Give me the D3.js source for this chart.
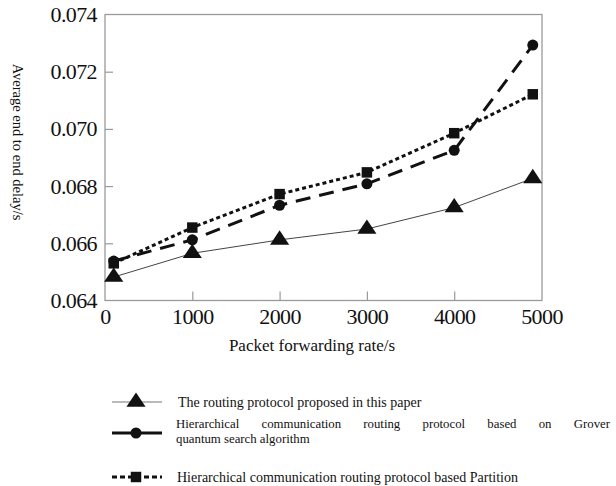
<!DOCTYPE html>
<html><head><meta charset="utf-8">
<script src="https://cdn.jsdelivr.net/npm/d3@7"></script>
<style>body{margin:0;background:#fff}svg{display:block}svg text{font-family:"Times New Roman","Liberation Serif",Times,"DejaVu Serif",serif !important;fill:#111}</style>
</head><body><svg id="c" width="616" height="486"></svg>
<script>
const xValues = [100, 1000, 2000, 3000, 4000, 4900];
const proposed = [0.06482, 0.06565, 0.06612, 0.06650, 0.06725, 0.06827];
const grover = [0.06538, 0.06612, 0.06733, 0.06808, 0.06925, 0.07293];
const partition = [0.06530, 0.06655, 0.06772, 0.06848, 0.06985, 0.07121];
const xTicks = [0, 1000, 2000, 3000, 4000, 5000];
const yTicks = [0.064, 0.066, 0.068, 0.070, 0.072, 0.074];
const seriesNames = ["The routing protocol proposed in this paper",
  "Hierarchical communication routing protocol based on Grover quantum search algorithm",
  "Hierarchical communication routing protocol based Partition"];
const xTitle = "Packet forwarding rate/s";
const yTitle = "Average end to end delay/s";

const svg = d3.select("#c");
const L = 105, R = 542, T = 14.5, B = 300.5;
const x = d3.scaleLinear().domain([0, 5000]).range([L, R - 0.5]);
const y = d3.scaleLinear().domain([0.064, 0.074]).range([B, T]);

svg.append("rect").attr("x", L).attr("y", T).attr("width", R - L).attr("height", B - T)
  .attr("fill", "none").attr("stroke", "#9a9a9a").attr("stroke-width", 1.3);

const ya = svg.append("g").attr("transform", `translate(${L},0)`)
  .call(d3.axisLeft(y).tickValues(yTicks).tickFormat(d3.format(".3f")).tickSize(-8).tickPadding(8));
const xa = svg.append("g").attr("transform", `translate(0,${B})`)
  .call(d3.axisBottom(x).tickValues(xTicks).tickFormat(d3.format("d")).tickSize(-9).tickPadding(8));
[ya, xa].forEach(g => {
  g.attr("font-family", null);
  g.select(".domain").remove();
  g.selectAll(".tick line").attr("stroke", "#9a9a9a").attr("stroke-width", 1.2);
  g.selectAll("text").attr("font-size", 22).attr("fill", "#222").attr("letter-spacing", -0.6);
});
ya.selectAll(".tick").filter(d => d === 0.064 || d === 0.074).select("line").remove();
xa.selectAll(".tick").filter(d => d === 0 || d === 5000).select("line").remove();

svg.append("text").attr("x", 312).attr("y", 351).attr("text-anchor", "middle")
  .attr("font-size", 17).text(xTitle);
svg.append("text").attr("transform", "translate(13,142) rotate(90)").attr("text-anchor", "middle")
  .attr("font-size", 14.5).text(yTitle);

const series = [
  {vals: proposed, stroke: "#444", width: 1, dash: null, marker: "tri"},
  {vals: grover, stroke: "#111", width: 3, dash: "15,9", marker: "circ"},
  {vals: partition, stroke: "#111", width: 3, dash: "4,3", marker: "sq"}
];
const line = d3.line().x((d, i) => x(xValues[i])).y(d => y(d));
const triSym = d3.symbol().type(d3.symbolTriangle).size(120);
const sqSym = d3.symbol().type(d3.symbolSquare).size(110);

function marker(g, type, cx, cy) {
  if (type === "tri") g.append("path").attr("d", triSym()).attr("transform", `translate(${cx},${cy}) scale(1.15,1)`).attr("fill", "#111");
  else if (type === "circ") g.append("circle").attr("cx", cx).attr("cy", cy).attr("r", 5.5).attr("fill", "#111");
  else g.append("path").attr("d", sqSym()).attr("transform", `translate(${cx},${cy})`).attr("fill", "#111");
}

series.forEach(s => {
  svg.append("path").datum(s.vals).attr("d", line).attr("fill", "none")
    .attr("stroke", s.stroke).attr("stroke-width", s.width).attr("stroke-dasharray", s.dash);
  const g = svg.append("g");
  s.vals.forEach((v, i) => marker(g, s.marker, x(xValues[i]), y(v)));
});

const legY = [402, 433, 477];
series.forEach((s, i) => {
  const g = svg.append("g");
  g.append("line").attr("x1", 112).attr("x2", 162).attr("y1", legY[i]).attr("y2", legY[i])
    .attr("stroke", i === 0 ? "#777" : "#111").attr("stroke-width", s.width === 1 ? 1.2 : 3)
    .attr("stroke-dasharray", i === 2 ? "5,3" : null);
  marker(g, s.marker, 136, legY[i]);
});
svg.append("text").attr("x", 178).attr("y", legY[0] + 5).attr("font-size", 14).text(seriesNames[0]);
{
  const words = seriesNames[1].split(" ");
  const first = words.slice(0, 7), second = words.slice(7).join(" ");
  const x0 = 176, x1 = 610;
  const ws = first.map(w => svg.append("text").attr("y", 428).attr("font-size", 12.8).text(w));
  const lens = ws.map(t => t.node().getComputedTextLength());
  const gap = (x1 - x0 - d3.sum(lens)) / (first.length - 1);
  let cx = x0;
  ws.forEach((t, i) => { t.attr("x", cx); cx += lens[i] + gap; });
  svg.append("text").attr("x", x0).attr("y", 442.5).attr("font-size", 12.8).text(second);
}
svg.append("text").attr("x", 177).attr("y", legY[2] + 5).attr("font-size", 14).text(seriesNames[2]);
</script></body></html>
